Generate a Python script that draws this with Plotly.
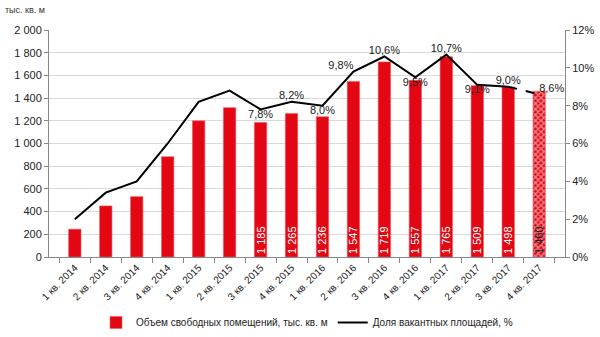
import plotly.graph_objects as go

categories = ["1 кв. 2014", "2 кв. 2014", "3 кв. 2014", "4 кв. 2014",
              "1 кв. 2015", "2 кв. 2015", "3 кв. 2015", "4 кв. 2015",
              "1 кв. 2016", "2 кв. 2016", "3 кв. 2016", "4 кв. 2016",
              "1 кв. 2017", "2 кв. 2017", "3 кв. 2017", "4 кв. 2017"]
volume = [245, 450, 532, 884, 1200, 1316, 1185, 1265, 1236, 1547, 1719, 1557, 1765, 1509, 1498, 1460]
volume_labels = ["", "", "", "", "", "", "1 185", "1 265", "1 236", "1 547", "1 719", "1 557", "1 765", "1 509", "1 498", "1 460"]
vacancy = [2.0, 3.4, 4.0, 6.0, 8.2, 8.8, 7.8, 8.2, 8.0, 9.8, 10.6, 9.5, 10.7, 9.1, 9.0, 8.6]
vacancy_labels = ["", "", "", "", "", "", "7,8%", "8,2%", "8,0%", "9,8%", "10,6%", "9,5%", "10,7%", "9,1%", "9,0%", "8,6%"]
label_pos = ["top center"] * 6 + ["bottom center", "top center", "bottom center", "top left",
                                  "top center", "bottom center", "top center", "bottom center",
                                  "top center", "top right"]

RED = "#E30613"
font = "Liberation Sans, Arial, sans-serif"

n = len(categories)
bar_shapes = [""] * (n - 1) + ["x"]
text_colors = ["white"] * (n - 1) + ["#222222"]

fig = go.Figure()

fig.add_trace(go.Bar(
    x=categories, y=volume, name="Объем свободных помещений, тыс. кв. м",
    marker=dict(color=RED, line=dict(color="#F25A63", width=0.6),
                pattern=dict(shape=bar_shapes, fgcolor="white", bgcolor=RED,
                             size=4, solidity=0.6)),
    text=volume_labels, textposition="inside", insidetextanchor="start",
    textangle=-90, textfont=dict(color=text_colors, size=11, family=font)))

fig.add_trace(go.Scatter(
    x=categories[:-1], y=vacancy[:-1], yaxis="y2", mode="lines+text",
    name="Доля вакантных площадей, %",
    line=dict(color="black", width=2),
    text=vacancy_labels[:-1], textposition=label_pos[:-1],
    textfont=dict(color="#222222", size=11, family=font), cliponaxis=False))
fig.add_trace(go.Scatter(
    x=categories[-2:], y=vacancy[-2:], yaxis="y2", mode="lines+text", showlegend=False,
    line=dict(color="black", width=2, dash="dash"),
    text=["", vacancy_labels[-1]], textposition=["top center", label_pos[-1]],
    textfont=dict(color="#222222", size=11, family=font), cliponaxis=False))

fig.update_layout(
    width=600, height=337,
    margin=dict(l=49, r=35, t=30, b=80),
    paper_bgcolor="white", plot_bgcolor="white",
    font=dict(family=font, size=11, color="#222222"),
    separators=", ",
    bargap=0.6,
    uniformtext=dict(minsize=11, mode="show"),
    xaxis=dict(type="category", tickson="boundaries", ticks="outside", ticklen=5,
               tickcolor="#888888", showline=True, linecolor="#888888", tickangle=-45,
               tickfont=dict(size=10), showgrid=False, automargin=False),
    yaxis=dict(range=[0, 2000], dtick=200, tickformat=",d", showgrid=True,
               gridcolor="#D9D9D9", showline=True, linecolor="#888888",
               ticks="outside", ticklen=4, tickcolor="#888888", zeroline=False,
               automargin=False),
    yaxis2=dict(range=[0, 12], dtick=2, overlaying="y", side="right", ticksuffix="%",
                showgrid=False, showline=True, linecolor="#888888",
                ticks="outside", ticklen=4, tickcolor="#888888", zeroline=False,
                automargin=False),
    legend=dict(orientation="h", x=0.5, xanchor="center", yref="container",
                y=0.0, yanchor="bottom",
                font=dict(size=10), bgcolor="rgba(0,0,0,0)"),
    annotations=[dict(text="тыс. кв. м", xref="paper", yref="paper", x=-0.09, y=1.09,
                      xanchor="left", yanchor="middle", showarrow=False,
                      font=dict(size=9, color="#333333"))],
)

fig.write_html("out.html")
